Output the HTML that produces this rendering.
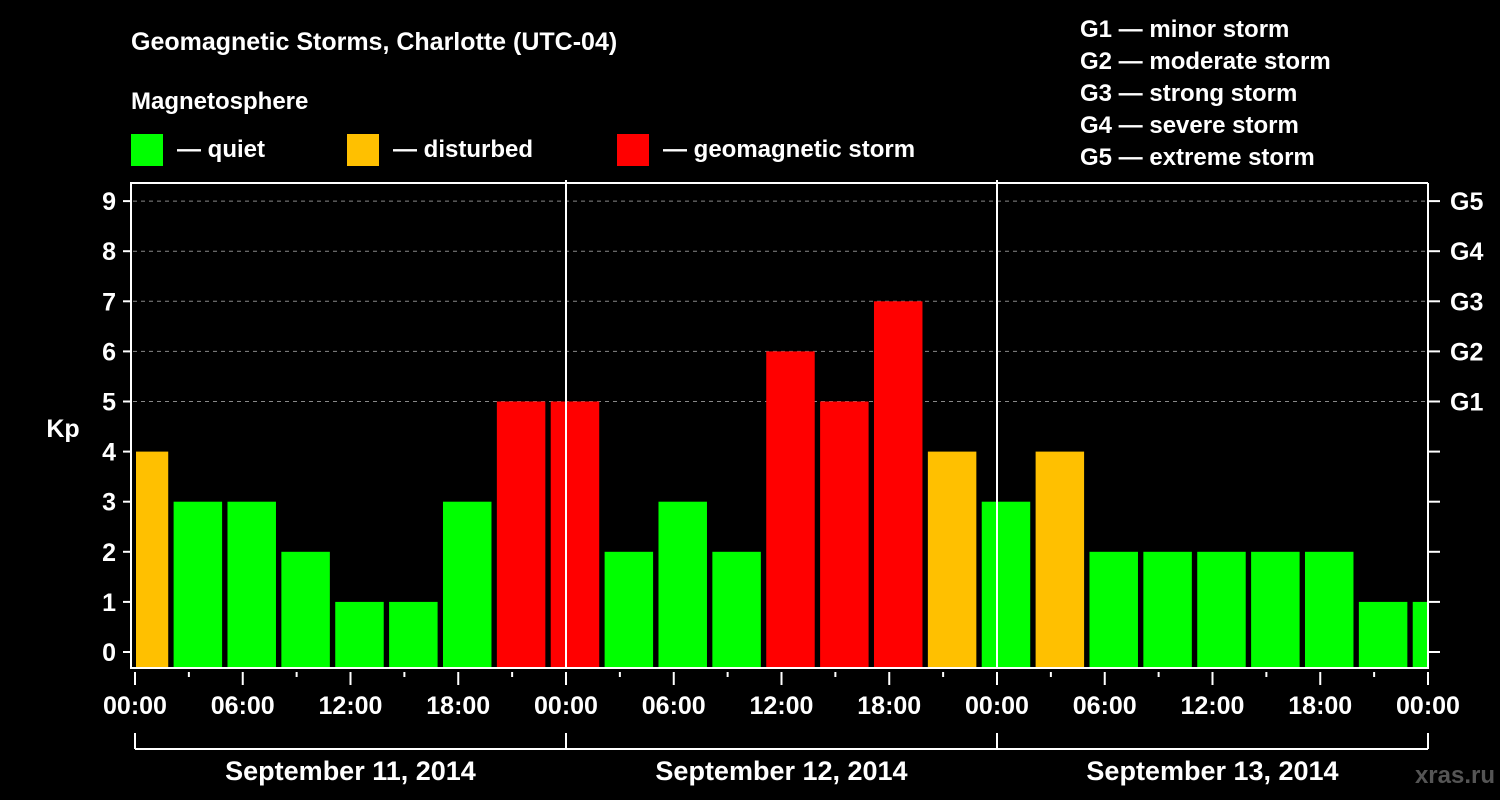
<!DOCTYPE html>
<html><head><meta charset="utf-8"><style>
body{margin:0;background:#000;}
svg{display:block;font-family:"Liberation Sans",sans-serif;font-weight:bold;}
</style></head><body>
<svg id="c" width="1500" height="800" viewBox="0 0 1500 800">
<rect width="1500" height="800" fill="#000"/>
<text x="131" y="50" fill="#fff" font-size="25">Geomagnetic Storms, Charlotte (UTC-04)</text>
<text x="131" y="109" fill="#fff" font-size="24">Magnetosphere</text>
<g><rect x="131" y="134" width="32" height="32" fill="#00ff00"/><text x="177" y="157" fill="#fff" font-size="24">— quiet</text></g>
<g><rect x="347" y="134" width="32" height="32" fill="#ffc000"/><text x="393" y="157" fill="#fff" font-size="24">— disturbed</text></g>
<g><rect x="617" y="134" width="32" height="32" fill="#ff0000"/><text x="663" y="157" fill="#fff" font-size="24">— geomagnetic storm</text></g>
<g fill="#fff" font-size="24">
<text x="1080" y="37">G1 — minor storm</text>
<text x="1080" y="69">G2 — moderate storm</text>
<text x="1080" y="101">G3 — strong storm</text>
<text x="1080" y="133">G4 — severe storm</text>
<text x="1080" y="165">G5 — extreme storm</text>
</g>
<text x="63" y="437" fill="#fff" font-size="25" text-anchor="middle">Kp</text>
<text x="1495" y="783" fill="#555" font-size="24" text-anchor="end">xras.ru</text>
<g id="grid"></g><g id="bars"></g><g id="axes"></g>
</svg>
<script>
const kpValues=[4,3,3,2,1,1,3,5, 5,2,3,2,6,5,7,4, 3,4,2,2,2,2,2,1, 1];
const yTicks=[0,1,2,3,4,5,6,7,8,9];
const gLabels=["G1","G2","G3","G4","G5"];
const xTickLabels=["00:00","06:00","12:00","18:00","00:00","06:00","12:00","18:00","00:00","06:00","12:00","18:00","00:00"];
const dayLabels=["September 11, 2014","September 12, 2014","September 13, 2014"];
const NS="http://www.w3.org/2000/svg";
const X0=135,X1=1428,HRS=72,PL=131,PT=183,PB=668;
const x=h=>X0+h*(X1-X0)/HRS;
const y=k=>652-50.1*k;
function mk(tag,attrs,parent,text){const e=document.createElementNS(NS,tag);for(const k in attrs)e.setAttribute(k,attrs[k]);if(text!=null)e.textContent=text;parent.appendChild(e);return e;}
const grid=document.getElementById('grid'),bars=document.getElementById('bars'),axes=document.getElementById('axes');
for(let k=5;k<=9;k++){const l=mk('line',{x1:PL+2,x2:X1,y1:y(k),y2:y(k),stroke:'#888','stroke-dasharray':'4,4','stroke-width':1},grid);

}
kpValues.forEach((v,i)=>{const c=0.5+3*i;let l=x(c-1.35),r=x(c+1.35);l=Math.max(l,136);r=Math.min(r,X1-1);if(r<=l)return;
const col=v>=5?'#ff0000':(v>=4?'#ffc000':'#00ff00');
const b=mk('rect',{x:l,y:y(v),width:r-l,height:PB-y(v),fill:col},bars);

});
for(let d=1;d<=2;d++){const l=mk('line',{x1:x(24*d),x2:x(24*d),y1:180,y2:PB,stroke:'#fff','stroke-width':2},axes);

}
const box=mk('path',{d:`M${X1} ${PT}H${PL}V${PB}H${X1}V${PT}`,fill:'none',stroke:'#fff','stroke-width':2},axes);


yTicks.forEach(k=>{mk('line',{x1:PL-8,x2:PL,y1:y(k),y2:y(k),stroke:'#fff','stroke-width':2},axes);
mk('line',{x1:X1,x2:X1+12,y1:y(k),y2:y(k),stroke:'#fff','stroke-width':2},axes);
const t=mk('text',{x:116,y:y(k)+9,fill:'#fff','font-size':25,'text-anchor':'end'},axes,String(k));


if(k>=5){const g=mk('text',{x:1450,y:y(k)+9,fill:'#fff','font-size':25},axes,gLabels[k-5]);

}});
for(let h=0;h<=HRS;h+=3){const maj=h%6===0;mk('line',{x1:x(h),x2:x(h),y1:PB+4,y2:PB+(maj?17:9),stroke:'#fff','stroke-width':2},axes);}
xTickLabels.forEach((s,i)=>{const t=mk('text',{x:x(6*i),y:714,fill:'#fff','font-size':25,'text-anchor':'middle'},axes,s);

});
mk('line',{x1:x(0),x2:x(72),y1:749,y2:749,stroke:'#fff','stroke-width':2},axes);
for(let d=0;d<=3;d++)mk('line',{x1:x(24*d),x2:x(24*d),y1:733,y2:749,stroke:'#fff','stroke-width':2},axes);
dayLabels.forEach((s,i)=>{const t=mk('text',{x:x(24*i+12),y:780,fill:'#fff','font-size':27,'text-anchor':'middle'},axes,s);

});
</script>
</body></html>
